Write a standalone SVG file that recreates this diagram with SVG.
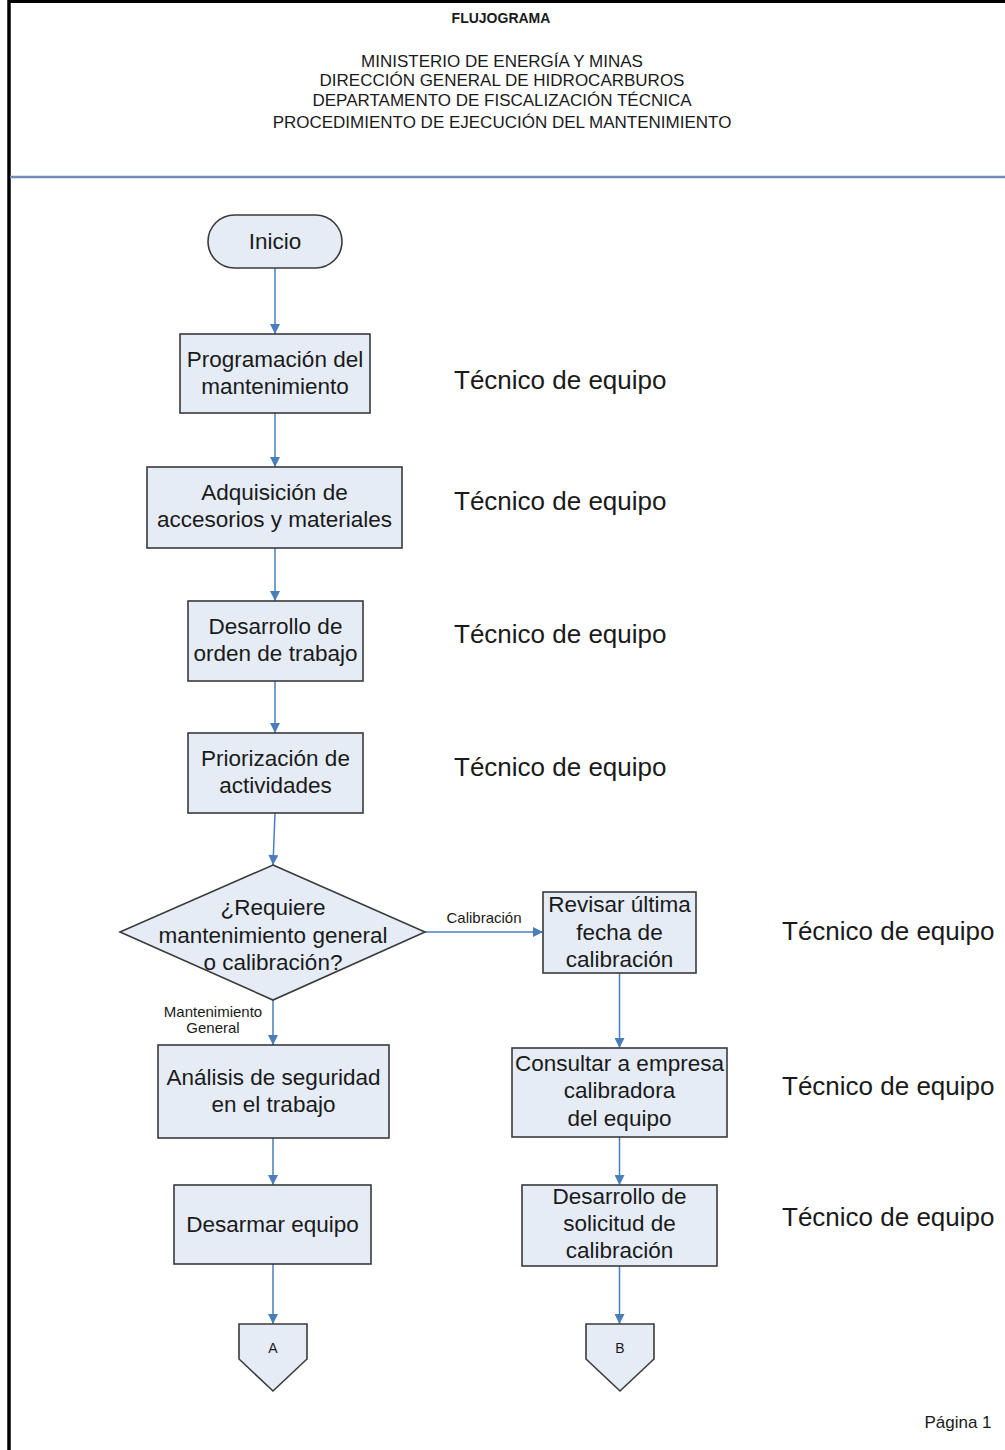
<svg xmlns="http://www.w3.org/2000/svg" width="1005" height="1450" viewBox="0 0 1005 1450">
<style>
.t{font-family:"Liberation Sans",Arial,sans-serif;fill:#1a1a1a;text-anchor:middle}
.h{font-size:17px}
.b{font-size:22.5px}
.r{font-size:26px;text-anchor:start}
.s{font-size:15px}
.box{fill:#e5ecf6;stroke:#3a3a3a;stroke-width:1.6}
.c{stroke:#4a7ebb;stroke-width:1.5;fill:none;marker-end:url(#arr)}
</style>
<defs>
<marker id="arr" viewBox="0 0 10 10" refX="10" refY="5" markerWidth="11" markerHeight="10" markerUnits="userSpaceOnUse" orient="auto">
<path d="M0,0 L10,5 L0,10 z" fill="#4a7ebb"/>
</marker>
</defs>
<rect width="1005" height="1450" fill="#ffffff"/>
<g id="page">
<line x1="8" y1="1.5" x2="1005" y2="1.5" stroke="#000" stroke-width="3"/>
<line x1="9" y1="0" x2="9" y2="1450" stroke="#000" stroke-width="3.5"/>
<line x1="10" y1="177" x2="1005" y2="177" stroke="#6d8fbb" stroke-width="2.5"/>
<text class="t" x="501" y="23" font-size="14" font-weight="bold">FLUJOGRAMA</text>
<text class="t h" x="502" y="67">MINISTERIO DE ENERGÍA Y MINAS</text>
<text class="t h" x="502" y="86">DIRECCIÓN GENERAL DE HIDROCARBUROS</text>
<text class="t h" x="502" y="106">DEPARTAMENTO DE FISCALIZACIÓN TÉCNICA</text>
<text class="t h" x="502" y="128">PROCEDIMIENTO DE EJECUCIÓN DEL MANTENIMIENTO</text>
<text class="t" x="958" y="1428" font-size="17">Página 1</text>
</g>
<g id="connectors">
<line class="c" x1="275" y1="268" x2="275" y2="334"/>
<line class="c" x1="275" y1="413" x2="275" y2="467"/>
<line class="c" x1="275" y1="548" x2="275" y2="601"/>
<line class="c" x1="275" y1="681" x2="275" y2="733"/>
<line class="c" x1="275" y1="813" x2="273" y2="865"/>
<line class="c" x1="425" y1="932" x2="543" y2="932"/>
<line class="c" x1="273" y1="1000" x2="273" y2="1045"/>
<line class="c" x1="273" y1="1138" x2="273" y2="1185"/>
<line class="c" x1="273" y1="1264" x2="273" y2="1324"/>
<line class="c" x1="619.5" y1="973" x2="619.5" y2="1048"/>
<line class="c" x1="619.5" y1="1137" x2="619.5" y2="1185"/>
<line class="c" x1="619.5" y1="1266" x2="619.5" y2="1324"/>
<text class="t s" x="484" y="923">Calibración</text>
<text class="t s" x="213" y="1017">Mantenimiento</text>
<text class="t s" x="213" y="1033">General</text>
</g>
<g id="inicio">
<rect class="box" x="208" y="215" width="134" height="53" rx="26.5"/>
<text class="t b" x="275" y="249">Inicio</text>
</g>
<g id="programacion">
<rect class="box" x="180" y="334" width="190" height="79"/>
<text class="t b" x="275" y="367">Programación del</text>
<text class="t b" x="275" y="394">mantenimiento</text>
</g>
<g id="adquisicion">
<rect class="box" x="147" y="467" width="255" height="81"/>
<text class="t b" x="274.5" y="500">Adquisición de</text>
<text class="t b" x="274.5" y="527">accesorios y materiales</text>
</g>
<g id="desarrollo-orden">
<rect class="box" x="188" y="601" width="175" height="80"/>
<text class="t b" x="275.5" y="634">Desarrollo de</text>
<text class="t b" x="275.5" y="661">orden de trabajo</text>
</g>
<g id="priorizacion">
<rect class="box" x="188" y="733" width="175" height="80"/>
<text class="t b" x="275.5" y="766">Priorización de</text>
<text class="t b" x="275.5" y="793">actividades</text>
</g>
<g id="decision">
<polygon class="box" points="273,865 425,932 273,1000 120,932"/>
<text class="t b" x="273" y="915">¿Requiere</text>
<text class="t b" x="273" y="943">mantenimiento general</text>
<text class="t b" x="273" y="970">o calibración?</text>
</g>
<g id="revisar">
<rect class="box" x="543" y="892" width="153" height="81"/>
<text class="t b" x="619.5" y="912">Revisar última</text>
<text class="t b" x="619.5" y="940">fecha de</text>
<text class="t b" x="619.5" y="967">calibración</text>
</g>
<g id="analisis">
<rect class="box" x="158" y="1045" width="231" height="93"/>
<text class="t b" x="273.5" y="1085">Análisis de seguridad</text>
<text class="t b" x="273.5" y="1112">en el trabajo</text>
</g>
<g id="consultar">
<rect class="box" x="512" y="1048" width="215" height="89"/>
<text class="t b" x="619.5" y="1071">Consultar a empresa</text>
<text class="t b" x="619.5" y="1098">calibradora</text>
<text class="t b" x="619.5" y="1126">del equipo</text>
</g>
<g id="desarmar">
<rect class="box" x="174" y="1185" width="197" height="79"/>
<text class="t b" x="272.5" y="1232">Desarmar equipo</text>
</g>
<g id="solicitud">
<rect class="box" x="522" y="1185" width="195" height="81"/>
<text class="t b" x="619.5" y="1204">Desarrollo de</text>
<text class="t b" x="619.5" y="1231">solicitud de</text>
<text class="t b" x="619.5" y="1258">calibración</text>
</g>
<g id="conector-a">
<polygon class="box" points="239,1324 307,1324 307,1359 273,1391 239,1359"/>
<text class="t" x="273" y="1353" font-size="14">A</text>
</g>
<g id="conector-b">
<polygon class="box" points="586,1324 654,1324 654,1359 620,1391 586,1359"/>
<text class="t" x="620" y="1353" font-size="14">B</text>
</g>
<g id="roles">
<text class="t r" x="454" y="389">Técnico de equipo</text>
<text class="t r" x="454" y="510">Técnico de equipo</text>
<text class="t r" x="454" y="643">Técnico de equipo</text>
<text class="t r" x="454" y="776">Técnico de equipo</text>
<text class="t r" x="782" y="940">Técnico de equipo</text>
<text class="t r" x="782" y="1095">Técnico de equipo</text>
<text class="t r" x="782" y="1226">Técnico de equipo</text>
</g>
</svg>
